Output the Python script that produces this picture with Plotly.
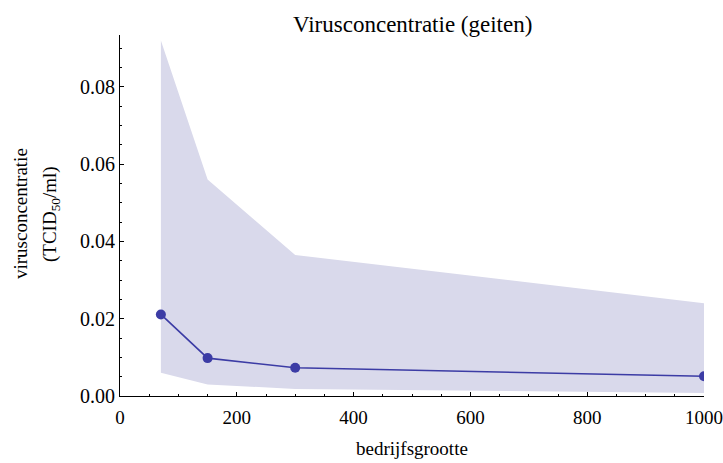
import plotly.graph_objects as go

# data
bedrijfsgrootte = [70, 150, 300, 1000]
concentratie = [0.0211, 0.0098, 0.0073, 0.0051]
band_upper = [0.0920, 0.0560, 0.0365, 0.0240]
band_lower = [0.0060, 0.0030, 0.0018, 0.0008]

x_ticks = [0, 200, 400, 600, 800, 1000]
y_ticks = [0.00, 0.02, 0.04, 0.06, 0.08]
y_ticklabels = ["0.00", "0.02", "0.04", "0.06", "0.08"]

FONT = "Liberation Serif"
BAND = "rgb(217,217,235)"
LINE = "rgb(60,60,165)"

fig = go.Figure()
fig.add_trace(go.Scatter(x=bedrijfsgrootte, y=band_lower, mode="lines",
                         line=dict(width=0, color=BAND), showlegend=False,
                         hoverinfo="skip"))
fig.add_trace(go.Scatter(x=bedrijfsgrootte, y=band_upper, mode="lines",
                         line=dict(width=0, color=BAND), fill="tonexty",
                         fillcolor=BAND, showlegend=False, hoverinfo="skip"))
fig.add_trace(go.Scatter(x=bedrijfsgrootte, y=concentratie, mode="lines+markers",
                         line=dict(width=1.6, color=LINE),
                         marker=dict(size=10, color=LINE, symbol="circle"),
                         cliponaxis=True, showlegend=False))

W, H = 723, 463
ml, mr, mt, mb = 120, 19, 35, 67
pw = W - ml - mr
ph = H - mt - mb

def py(pix):
    # pixel row -> paper y
    return (mt + ph - pix) / ph

def px(pix):
    return (pix - ml) / pw

fig.update_layout(
    width=W, height=H,
    margin=dict(l=ml, r=mr, t=mt, b=mb, autoexpand=False),
    paper_bgcolor="white", plot_bgcolor="white",
    font=dict(family=FONT, color="black", size=19),
    xaxis=dict(range=[0, 1000], tickvals=x_ticks, ticks="inside", ticklen=4,
               tickcolor="black", showline=True, linecolor="black", linewidth=1,
               showgrid=False, zeroline=False, automargin=False,
               tickfont=dict(size=19, family=FONT), ticklabelstandoff=4,
               ticklabeloverflow="allow",
               minor=dict(dtick=50, ticks="inside", ticklen=2, tickcolor="black",
                          showgrid=False)),
    yaxis=dict(range=[0, 0.0934], tickvals=y_ticks, ticktext=y_ticklabels,
               ticks="inside", ticklen=4, tickcolor="black", showline=True,
               linecolor="black", linewidth=1, showgrid=False, zeroline=False,
               automargin=False, tickfont=dict(size=20, family=FONT),
               ticklabeloverflow="allow",
               minor=dict(dtick=0.005, ticks="inside", ticklen=2, tickcolor="black",
                          showgrid=False)),
    annotations=[
        dict(text="Virusconcentratie (geiten)", xref="paper", yref="paper",
             x=0.5, y=py(24), xanchor="center", yanchor="middle",
             showarrow=False, font=dict(size=23, family=FONT)),
        dict(text="bedrijfsgrootte", xref="paper", yref="paper",
             x=0.5, y=py(448), xanchor="center", yanchor="middle",
             showarrow=False, font=dict(size=19, family=FONT)),
        dict(text="virusconcentratie", xref="paper", yref="paper",
             x=px(20), y=py(214), xanchor="center", yanchor="middle",
             textangle=-90, showarrow=False, font=dict(size=19, family=FONT)),
        dict(text="(TCID<sub>50</sub>/ml)", xref="paper", yref="paper",
             x=px(51), y=py(214), xanchor="center", yanchor="middle",
             textangle=-90, showarrow=False, font=dict(size=19, family=FONT)),
    ],
)

fig.write_html("out.html", config={"displayModeBar": False},
               post_script="document.body.style.margin='0';document.body.style.overflow='hidden';")
